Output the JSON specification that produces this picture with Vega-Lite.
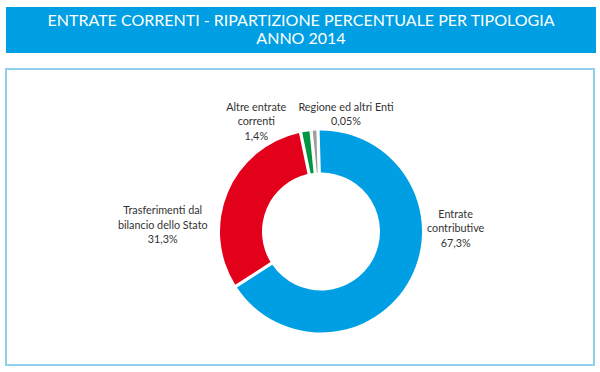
{
  "$schema": "https://vega.github.io/schema/vega-lite/v6.json",
  "background": "white",
  "padding": {"top": 7, "left": 5, "right": 5, "bottom": 3},
  "spacing": 15,
  "config": {"font": "Lato", "view": {"stroke": null}},
  "vconcat": [
    {
      "width": 590,
      "height": 46,
      "view": {"fill": "#009fe3", "stroke": null},
      "data": {"values": [
        {"riga": 1, "testo": "ENTRATE CORRENTI - RIPARTIZIONE PERCENTUALE PER TIPOLOGIA"},
        {"riga": 2, "testo": "ANNO 2014"}
      ]},
      "mark": {"type": "text", "color": "white", "fontSize": 16, "baseline": "middle", "align": "center"},
      "encoding": {
        "x": {"datum": "titolo", "type": "nominal", "axis": null},
        "y": {"field": "riga", "type": "ordinal", "axis": null, "scale": {"type": "point", "padding": 0.82}},
        "text": {"field": "testo"}
      }
    },
    {
      "width": 588,
      "height": 296,
      "view": {"fill": "white", "stroke": "#8fd0ec", "strokeWidth": 2},
      "data": {"values": [
        {"tipologia": "Entrate contributive", "ordine": 1, "quota": 67.3, "etichetta": ["Entrate", "contributive", "67,3%"]},
        {"tipologia": "Trasferimenti dal bilancio dello Stato", "ordine": 2, "quota": 31.3, "etichetta": ["Trasferimenti dal", "bilancio dello Stato", "31,3%"]},
        {"tipologia": "Altre entrate correnti", "ordine": 3, "quota": 1.7, "etichetta": ["Altre entrate", "correnti", "1,4%"]},
        {"tipologia": "Regione ed altri Enti", "ordine": 4, "quota": 1.1, "etichetta": ["Regione ed altri Enti", "0,05%"]}
      ]},
      "encoding": {
        "theta": {"field": "quota", "type": "quantitative", "stack": true, "scale": {"range": [-0.03, 6.2532]}},
        "order": {"field": "ordine", "type": "quantitative"}
      },
      "layer": [
        {
          "mark": {"type": "arc", "innerRadius": 59, "outerRadius": 101, "padAngle": 0.028, "xOffset": 21, "yOffset": 14.5},
          "encoding": {
            "color": {
              "field": "tipologia",
              "type": "nominal",
              "legend": null,
              "scale": {
                "domain": ["Entrate contributive", "Trasferimenti dal bilancio dello Stato", "Altre entrate correnti", "Regione ed altri Enti"],
                "range": ["#009fe3", "#e2001a", "#009640", "#9d9d9c"]
              }
            }
          }
        },
        {
          "mark": {
            "type": "text",
            "radius": 125,
            "fontSize": 10.8,
            "lineHeight": 14.5,
            "color": "#333333",
            "align": "center",
            "baseline": "middle",
            "xOffset": 21,
            "yOffset": 14.5,
            "dx": {"expr": "datum.ordine == 1 ? 24 : datum.ordine == 2 ? -43 : datum.ordine == 3 ? -46 : 33"},
            "dy": {"expr": "datum.ordine == 1 ? -75 : datum.ordine == 2 ? 28 : datum.ordine == 3 ? 0 : 1"}
          },
          "encoding": {
            "text": {"field": "etichetta"}
          }
        }
      ]
    }
  ]
}
